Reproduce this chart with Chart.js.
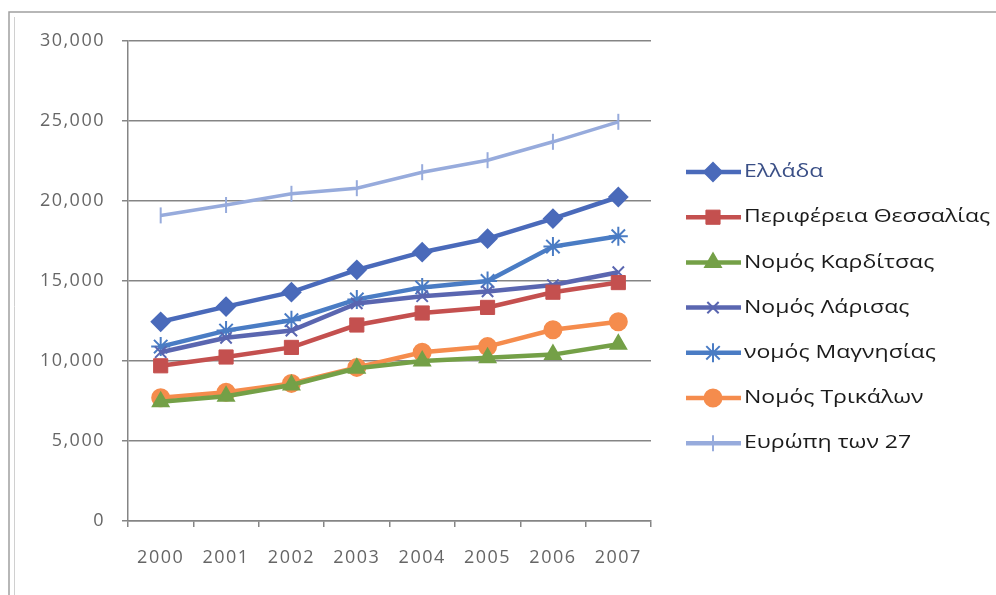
<!DOCTYPE html>
<html>
<head>
<meta charset="utf-8">
<script src="https://cdn.jsdelivr.net/npm/chart.js@4/dist/chart.umd.min.js"></script>
<style>
  html, body { margin: 0; padding: 0; background: #fff; }
  #wrap { width: 996px; height: 595px; position: relative; }
</style>
</head>
<body>
<div id="wrap"><canvas id="myLineChart"></canvas></div>
<script>
const years = ["2000", "2001", "2002", "2003", "2004", "2005", "2006", "2007"];

const greece = [12450, 13400, 14300, 15700, 16800, 17650, 18900, 20250];
const thessaly = [9700, 10250, 10850, 12250, 13000, 13350, 14300, 14900];
const karditsa = [7450, 7800, 8500, 9550, 10000, 10200, 10400, 11050];
const larisa = [10550, 11450, 11900, 13600, 14050, 14350, 14750, 15550];
const magnesia = [10900, 11900, 12550, 13850, 14600, 15000, 17150, 17800];
const trikala = [7700, 8050, 8600, 9600, 10550, 10900, 11950, 12450];
const eu27 = [19100, 19750, 20450, 20800, 21800, 22550, 23700, 24950];

const yTicks = [0, 5000, 10000, 15000, 20000, 25000, 30000];

const FONT = "'Open Sans', 'DejaVu Sans', sans-serif";

function series(label, data, color, style, radius, extra) {
  return Object.assign({
    label: label,
    data: data,
    borderColor: color,
    backgroundColor: color,
    pointBackgroundColor: color,
    pointBorderColor: color,
    pointStyle: style,
    pointRadius: radius,
    pointBorderWidth: 2,
    borderWidth: 4.5,
    tension: 0,
  }, extra || {});
}

const datasets = [
  series("Ελλάδα", greece, "#4a6aba", "rectRot", 9, { textColor: "#3a4f86" }),
  series("Περιφέρεια Θεσσαλίας", thessaly, "#c4504f", "rect", 10, { pointBorderWidth: 1 }),
  series("Νομός Καρδίτσας", karditsa, "#74a047", "triangle", 9),
  series("Νομός Λάρισας", larisa, "#5a66b0", "crossRot", 8),
  series("νομός Μαγνησίας", magnesia, "#4a7cc4", "star", 9.5),
  series("Νομός Τρικάλων", trikala, "#f58c4d", "circle", 8.5),
  series("Ευρώπη των 27", eu27, "#97abdc", "line", 8, { pointRotation: 90, borderWidth: 3.5 }),
];

// wider letters, the original text looks stretched
const textSpacing = {
  id: "textSpacing",
  beforeDraw(chart) {
    chart.ctx.letterSpacing = "1.5px";
  },
};

// legend drawn by hand: line sample with marker in the middle, like Excel
const sideLegend = {
  id: "sideLegend",
  afterDraw(chart) {
    const { ctx } = chart;
    ctx.save();
    ctx.letterSpacing = "0px";
    chart.data.datasets.forEach((ds, i) => {
      const y = 172 + i * 45.2;
      ctx.beginPath();
      ctx.strokeStyle = ds.borderColor;
      ctx.lineWidth = 4.5;
      ctx.moveTo(686, y);
      ctx.lineTo(741, y);
      ctx.stroke();

      ctx.fillStyle = ds.pointBackgroundColor;
      ctx.strokeStyle = ds.pointBorderColor;
      ctx.lineWidth = ds.pointBorderWidth;
      Chart.helpers.drawPoint(ctx, {
        pointStyle: ds.pointStyle,
        radius: ds.pointRadius,
        rotation: ds.pointRotation || 0,
        borderWidth: ds.pointBorderWidth,
      }, 713, y);

      ctx.save();
      ctx.translate(744, y);
      ctx.scale(1.28, 1);
      ctx.fillStyle = ds.textColor || "#1b1b1b";
      ctx.font = "18px " + FONT;
      ctx.textAlign = "left";
      ctx.textBaseline = "middle";
      ctx.fillText(ds.label, 0, 0);
      ctx.restore();
    });

    // outer frame (top and left edges visible in the original)
    ctx.strokeStyle = "#a0a0a0";
    ctx.lineWidth = 1.5;
    ctx.beginPath();
    ctx.moveTo(9, 600);
    ctx.lineTo(9, 12);
    ctx.lineTo(1000, 12);
    ctx.stroke();
    ctx.strokeStyle = "#d0d0d0";
    ctx.lineWidth = 1;
    ctx.beginPath();
    ctx.moveTo(14.5, 600);
    ctx.lineTo(14.5, 17);
    ctx.stroke();
    ctx.restore();
  },
};

const ctx = document.getElementById("myLineChart").getContext("2d");

const myLineChart = new Chart(ctx, {
  type: "line",
  data: { labels: years, datasets: datasets },
  options: {
    responsive: true,
    maintainAspectRatio: false,
    animation: false,
    layout: { padding: { top: 41, right: 345, left: 0, bottom: 0 } },
    scales: {
      x: {
        offset: true,
        afterFit: (s) => { s.height = 74; },
        grid: {
          offset: true,
          drawOnChartArea: false,
          drawTicks: true,
          tickLength: 6,
          color: "#858585",
          lineWidth: 1.5,
        },
        border: { color: "#858585", width: 1.5 },
        ticks: {
          padding: 20,
          color: "#666666",
          font: { family: FONT, size: 18 },
          maxRotation: 0,
        },
      },
      y: {
        min: 0,
        max: 30000,
        afterFit: (s) => { s.width = 128; },
        afterBuildTicks: (s) => { s.ticks = yTicks.map((v) => ({ value: v })); },
        grid: {
          color: "#858585",
          lineWidth: 1.5,
          tickLength: 6,
        },
        border: { color: "#858585", width: 1.5 },
        ticks: {
          padding: 17,
          color: "#666666",
          font: { family: FONT, size: 18 },
          callback: (v) => v.toLocaleString("en-US"),
        },
      },
    },
    plugins: {
      legend: { display: false },
      tooltip: { enabled: false },
    },
  },
  plugins: [textSpacing, sideLegend],
});
</script>
</body>
</html>
